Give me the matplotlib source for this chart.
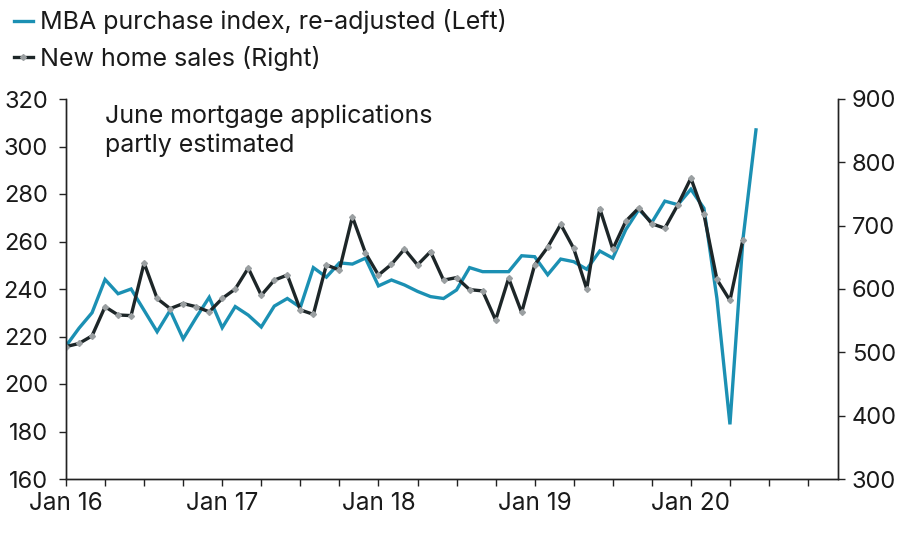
import numpy as np
import matplotlib
matplotlib.use("Agg")
import matplotlib.pyplot as plt

# 月次データ（2016年1月から）
mba_purchase = [216, 223.5, 230, 244, 238, 240, 231, 222, 231, 219,
                228, 236.5, 223.7, 232.6, 229, 224, 232.8, 236, 232.3, 249,
                245, 251, 250.5, 253, 241.3, 243.8, 241.7, 239, 236.8, 236,
                239.6, 249, 247.3, 247.3, 247.3, 254, 253.6, 246, 252.6, 251.5,
                248.3, 256, 253, 265, 273.5, 268, 277, 275.5, 282, 274,
                236, 183, 261, 307]
new_home_sales = [509, 514, 526, 572, 559, 558, 641, 585, 569, 577,
                  572, 564, 585, 600, 633, 590, 614, 622, 567, 560,
                  638, 630, 714, 657, 622, 639, 663, 638, 659, 614,
                  618, 599, 597, 551, 617, 563, 638, 666, 702, 664,
                  600, 727, 663, 707, 728, 703, 696, 733, 775, 718,
                  615, 582, 678]
year_labels = ["Jan 16", "Jan 17", "Jan 18", "Jan 19", "Jan 20"]
left_ticks = [160, 180, 200, 220, 240, 260, 280, 300, 320]
right_ticks = [300, 400, 500, 600, 700, 800, 900]

BLUE = "#1b90b3"
DARK = "#1d2628"
TXT = "#1a1a1a"

plt.rcParams["font.family"] = ["Inter", "DejaVu Sans"]

fig = plt.figure(figsize=(9, 5.37), dpi=100)
ax = fig.add_axes([66 / 900, 1 - 479 / 537, (838 - 66) / 900, (479 - 99) / 537])
ax2 = ax.twinx()

x_mba = np.arange(len(mba_purchase))
x_nhs = np.arange(len(new_home_sales))

l1, = ax.plot(x_mba, mba_purchase, color=BLUE, lw=2.4, solid_joinstyle="miter",
              label="MBA purchase index, re-adjusted (Left)")
l2, = ax2.plot(x_nhs, new_home_sales, color=DARK, lw=2.4, marker="D", ms=3,
               mfc="#9a9fa1", mec="#9a9fa1", label="New home sales (Right)")

ax.set_xlim(0, 59.3)
ax.set_ylim(160, 320)
ax2.set_ylim(300, 900)
ax.set_yticks(left_ticks)
ax2.set_yticks(right_ticks)

ax.set_xticks(np.arange(0, 58, 3))
ax.set_xticklabels([year_labels[i // 12] if i % 12 == 0 else "" for i in range(0, 58, 3)])

for a in (ax, ax2):
    a.spines["top"].set_visible(False)
    for s in ("left", "right", "bottom"):
        a.spines[s].set_linewidth(1.0)
        a.spines[s].set_color("#222222")
ax.tick_params(axis="both", direction="out", length=5, width=1, colors="#222222",
               labelsize=17, labelcolor=TXT)
ax.tick_params(axis="y", pad=8)
ax.tick_params(axis="x", labelsize=17.5, pad=4)
ax2.tick_params(axis="y", direction="out", length=5, width=1, colors="#222222",
                labelsize=17, labelcolor=TXT, pad=5)

ax.set_zorder(ax2.get_zorder() - 1)
ax.patch.set_visible(False)

ax.text(0.05, 0.985, "June mortgage applications\npartly estimated", transform=ax.transAxes,
        ha="left", va="top", fontsize=18, color=TXT, linespacing=1.28)

fig.legend(handles=[l1, l2], loc="upper left", bbox_to_anchor=(-0.004, 1.015), frameon=False,
           fontsize=18, handlelength=0.75, handletextpad=0.3, labelspacing=0.45,
           borderaxespad=0.3, labelcolor=TXT)

fig.savefig("out.png", dpi=100, facecolor="white")
